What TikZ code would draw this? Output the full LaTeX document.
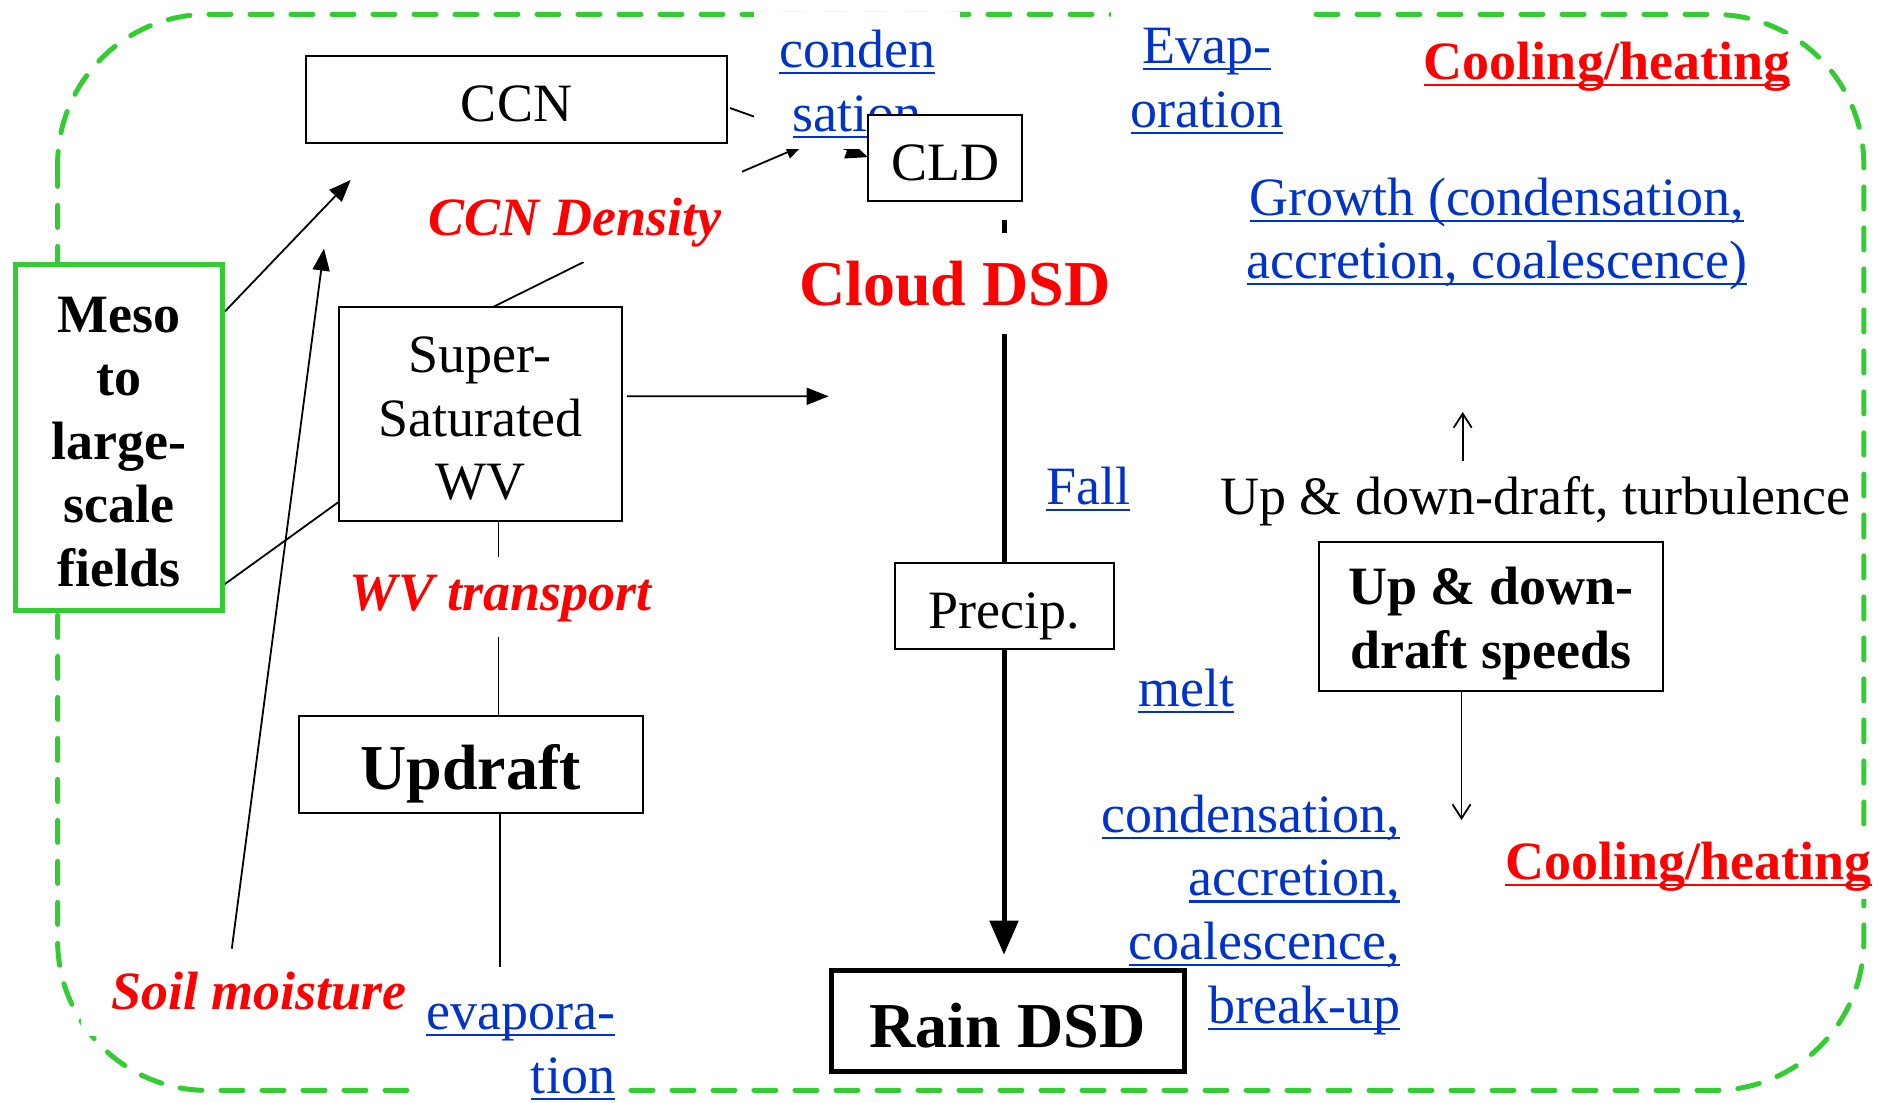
\documentclass[tikz,border=0pt]{standalone}
\usepackage{fontspec}
\setmainfont{Liberation Serif}
\newcommand{\undl}[1]{\setbox0=\hbox{#1}\rlap{\vrule width\wd0 height -4.5pt depth 6.8pt}\box0}
\usetikzlibrary{arrows.meta,calc}
\definecolor{ublue}{RGB}{0,51,204}
\definecolor{ggreen}{RGB}{51,204,51}
\definecolor{rred}{RGB}{255,0,0}
\newcommand{\fsN}{\fontsize{54}{63.6}\selectfont}
\newcommand{\fsL}{\fontsize{64}{75}\selectfont}
\pgfdeclarelayer{bg}
\pgfdeclarelayer{lab}
\pgfsetlayers{bg,lab,main}
\begin{document}
\begin{tikzpicture}[x=1pt,y=-1pt,
  boxnode/.style={draw=black, line width=2pt, fill=white, inner sep=0pt, outer sep=0pt, font=\fsN},
  lbl/.style={fill=white, inner xsep=10pt, inner ysep=8pt, outer sep=0pt, anchor=base, font=\fsN},
  bluelbl/.style={lbl, text=ublue},
  redbi/.style={lbl, text=rred, font=\fsN\bfseries\itshape},
  redbold/.style={lbl, text=rred, font=\fsN\bfseries},
  connl/.style={line width=1.8pt},
  triarrow/.style={-{Triangle[length=22pt,width=17pt]}},
  barbarrow/.style={-{Straight Barb[length=14pt,width=18pt]}},
  thickl/.style={line width=5pt},
  borderl/.style={draw=ggreen, line width=5pt, dash pattern=on 22pt off 19pt, line cap=round, rounded corners=150pt}
]
\useasboundingbox (0,0) rectangle (1883,1103);

% boxes
\node[boxnode, minimum width=421pt, minimum height=87pt, text height=43pt, text depth=0pt] (CCN) at (516.5,99.5) {CCN};
\node[boxnode, minimum width=154pt, minimum height=86pt, text height=44pt, text depth=0pt] (CLD) at (945,158) {CLD};
\node[boxnode, minimum width=283.4pt, minimum height=213.6pt, align=center] (SS) at (480.3,414.2) {\rule{0pt}{45pt}Super-\\Saturated\\WV};
\node[boxnode, minimum width=343.5pt, minimum height=97pt, font=\fsL\bfseries, text height=49pt, text depth=0pt] (Up) at (470.8,764.5) {Updraft};
\node[boxnode, minimum width=219.7pt, minimum height=85.5pt, text height=46pt, text depth=0pt] (Precip) at (1004.5,605.8) {Precip.};
\node[boxnode, line width=5pt, minimum width=353pt, minimum height=101pt, font=\fsL\bfseries, text height=53pt, text depth=0pt] (Rain) at (1007.5,1020.5) {Rain DSD};
\node[boxnode, minimum width=344.7pt, minimum height=149pt, font=\fsN\bfseries, align=center] (UD) at (1491,616) {\rule{0pt}{53pt}Up \& down-\\draft speeds};
\node[boxnode, draw=ggreen, line width=5pt, minimum width=206.4pt, minimum height=346pt, font=\fsN\bfseries, align=center] (Meso) at (118.8,437) {\rule{0pt}{45pt}Meso\\to\\large-\\scale\\fields};

% labels
\begin{pgfonlayer}{lab}
\node[bluelbl, align=center, inner xsep=25pt, inner ysep=18pt, text depth=0pt] (conden) at (857.4,131) {\undl{conden}\\\undl{sation}};
\node[bluelbl, align=center, inner xsep=20pt, inner ysep=17pt] (evap) at (1207,127) {\undl{Evap-}\\\undl{oration}};
\node[redbold] (cool1) at (1607,79) {\undl{Cooling/heating}};
\node[bluelbl, align=center] (growth) at (1497,278.6) {\undl{Growth (condensation,}\\\undl{accretion, coalescence)}};
\node[redbi] (ccnd) at (575,235) {\strut CCN Density};
\node[lbl, text=rred, font=\fsL\bfseries, inner ysep=28pt] (cdsd) at (955,305) {Cloud DSD};
\node[bluelbl] (fall) at (1088,504) {\strut\undl{Fall}};
\node[lbl] (turb) at (1535.4,514) {\strut Up \& down-draft, turbulence};
\node[redbi] (wvt) at (500.8,610) {\strut WV transport};
\node[bluelbl] (melt) at (1186,706) {\strut\undl{melt}};
\node[bluelbl, align=right, anchor=base east] (cabb) at (1410,1023) {\undl{condensation,}\\\undl{accretion,}\\\undl{coalescence,}\\\undl{break-up}};
\node[redbold] (cool2) at (1688.5,879) {\undl{Cooling/heating}};
\node[redbi, inner xsep=30pt] (soil) at (258.8,1009) {\strut Soil moisture};
\node[bluelbl, align=right, anchor=base east, inner xsep=12pt] (evapora) at (627,1093) {\undl{evapora-}\\\undl{tion}};
\end{pgfonlayer}

% connectors and border
\begin{pgfonlayer}{bg}
\draw[borderl] (57.6,14.4) rectangle (1863.8,1090.4);

\coordinate (m1tip) at (350.7,180);
\draw[connl, triarrow] ($(Meso.north east)!0.146!(Meso.south east)$) -- (m1tip);
\draw[connl] ($(Meso.north east)!0.931!(Meso.south east)$) -- ($(SS.north west)!0.911!(SS.south west)$);

\coordinate (soilstart) at (231.8,948.7);
\coordinate (soiltip) at (324,248.6);
\draw[connl, triarrow] (soilstart) -- (soiltip);

\coordinate (ccndx) at (583.6,0);
\draw[connl] ($(SS.north west)!0.542!(SS.north east)$) -- (ccnd.south -| ccndx);

\coordinate (sstip) at (828.6,396.3);
\draw[connl, triarrow] ($(SS.north east)!0.416!(SS.south east)+(5,0)$) -- (sstip);

\coordinate (xa) at (498.4,0);
\draw[connl] (SS.south -| xa) -- (Up.north -| xa);
\coordinate (updn) at (499.6,966.7);
\draw[connl] (Up.south -| updn) -- (updn);

\draw[connl, -{Triangle[length=22pt,width=18pt]}] ($(CCN.north east)!0.598!(CCN.south east)+(3,0)$) -- ($(CLD.north west)!0.49!(CLD.south west)$);
\coordinate (fb1) at (742,171.7);
\coordinate (fb2) at (802,146);
\draw[connl, -{Triangle[length=16pt,width=13pt]}] (fb1) -- (fb2);

\coordinate (cldl) at (1004,219.8);
\draw[thickl] (cldl) -- (Precip.north -| cldl);
\coordinate (rtip) at (1004,954.7);
\draw[thickl, -{Triangle[length=34pt,width=28pt]}] (Precip.south -| rtip) -- (rtip);

\coordinate (udt) at (1462.7,412);
\coordinate (udb) at (1461.5,820);
\draw[connl, barbarrow] (UD.north -| udt) -- (udt);
\draw[connl, barbarrow] (UD.south -| udb) -- (udb);
\end{pgfonlayer}
\end{tikzpicture}
\end{document}
